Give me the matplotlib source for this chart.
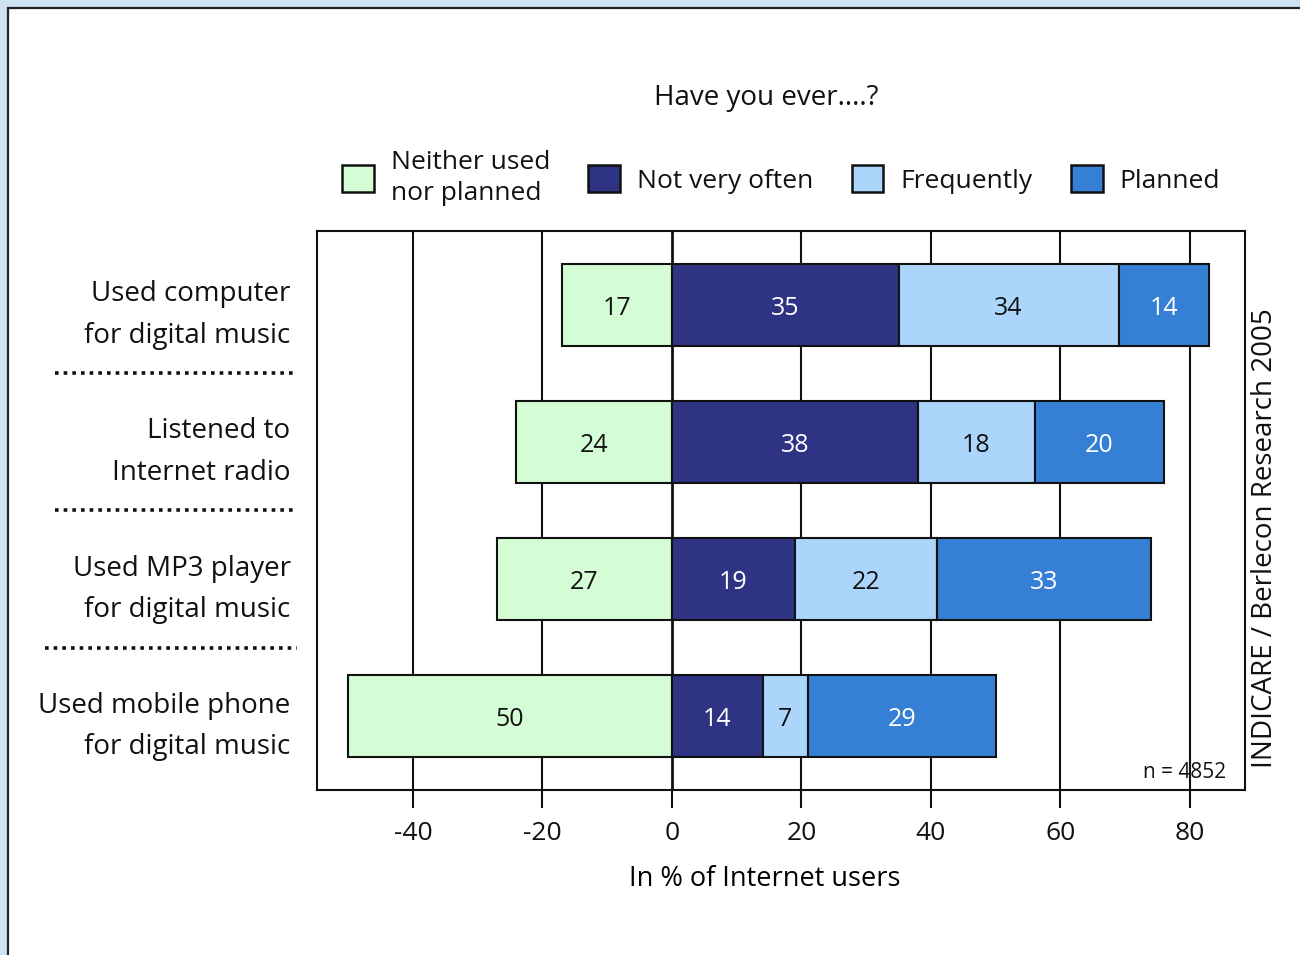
#!/usr/bin/env python3
"""Diverging stacked bars: digital music usage among Internet users (INDICARE 2005)."""

import matplotlib

matplotlib.use("Agg")

import matplotlib.pyplot as plt
import matplotlib.transforms as mtransforms
import numpy as np
from matplotlib.patches import Patch, Rectangle

COLORS = {
    "frame": "#cde2f2",
    "ink": "#111111",
    "neither": "#d5fdd5",
    "not_often": "#2f3384",
    "frequently": "#acd5fb",
    "planned": "#3580d5",
}

CATEGORIES = [
    "Used computer\nfor digital music",
    "Listened to\nInternet radio",
    "Used MP3 player\nfor digital music",
    "Used mobile phone\nfor digital music",
]
NEITHER = [17, 24, 27, 50]
NOT_OFTEN = [35, 38, 19, 14]
FREQUENTLY = [34, 18, 22, 7]
PLANNED = [14, 20, 33, 29]
SERIES_LABELS = ["Neither used\nnor planned", "Not very often", "Frequently", "Planned"]
X_TICKS = [-40, -20, 0, 20, 40, 60, 80]

plt.rcParams.update(
    {
        "font.family": ["Open Sans", "DejaVu Sans"],
        "text.color": COLORS["ink"],
        "axes.edgecolor": COLORS["ink"],
        "xtick.color": COLORS["ink"],
        "ytick.color": COLORS["ink"],
    }
)

W, H = 1300, 955
fig = plt.figure(figsize=(W / 100, H / 100), dpi=100)
fig.patch.set_facecolor(COLORS["frame"])
fig.add_artist(
    Rectangle(
        (8 / W, -0.05), 1.1, 1 - 8 / H + 0.05,
        transform=fig.transFigure, facecolor="white", edgecolor="#222222", lw=1.6, zorder=0,
    )
)

ax = fig.add_axes([317 / W, 165 / H, 928 / W, 559 / H])
ax.set_facecolor("white")

y = np.arange(len(CATEGORIES))
bar_h = 0.6
edge = dict(edgecolor=COLORS["ink"], linewidth=1.5, height=bar_h, zorder=3)

neither = np.array(NEITHER)
not_often = np.array(NOT_OFTEN)
frequently = np.array(FREQUENTLY)
planned = np.array(PLANNED)

ax.barh(y, -neither, left=0, color=COLORS["neither"], **edge)
ax.barh(y, not_often, left=0, color=COLORS["not_often"], **edge)
ax.barh(y, frequently, left=not_often, color=COLORS["frequently"], **edge)
ax.barh(y, planned, left=not_often + frequently, color=COLORS["planned"], **edge)

label_fs = 18
dy = 0.025
for i in range(len(y)):
    ax.text(-neither[i] / 2, y[i] + dy, str(neither[i]), ha="center", va="center",
            fontsize=label_fs, color=COLORS["ink"], zorder=5)
    ax.text(not_often[i] / 2, y[i] + dy, str(not_often[i]), ha="center", va="center",
            fontsize=label_fs, color="white", zorder=5)
    ax.text(not_often[i] + frequently[i] / 2, y[i] + dy, str(frequently[i]), ha="center",
            va="center", fontsize=label_fs, color=COLORS["ink"], zorder=5)
    ax.text(not_often[i] + frequently[i] + planned[i] / 2, y[i] + dy, str(planned[i]),
            ha="center", va="center", fontsize=label_fs, color="white", zorder=5)

for xv in X_TICKS:
    ax.axvline(xv, color=COLORS["ink"], lw=2.0 if xv == 0 else 1.5, zorder=1)

ax.set_xlim(-54.8, 88.5)
ax.set_ylim(len(CATEGORIES) - 0.46, -0.54)
ax.set_xticks(X_TICKS)
ax.set_xticklabels([str(v) for v in X_TICKS], fontsize=19)
ax.tick_params(axis="x", direction="out", length=13, width=1.5, pad=9)
ax.set_yticks(y)
ax.set_yticklabels(CATEGORIES, fontsize=20, linespacing=1.65)
ax.tick_params(axis="y", length=0, pad=19)
for spine in ax.spines.values():
    spine.set_linewidth(1.5)

ax.set_xlabel("In % of Internet users", fontsize=19.5)
ax.xaxis.set_label_coords((765 - 317) / 928, -(879 - 790) / 559)
ax.xaxis.label.set_verticalalignment("center")

# dotted separators between the category labels
trans = mtransforms.blended_transform_factory(fig.transFigure, ax.transData)
for k, sep in enumerate(y[:-1] + 0.5):
    x0 = 45 / W if k == 2 else 55 / W
    ax.plot([x0, 297 / W], [sep, sep], transform=trans, clip_on=False,
            color=COLORS["ink"], lw=2.6, linestyle=(0, (1, 1.4)), dash_capstyle="butt")

ax.text(0.98, 0.012, "n = 4852", transform=ax.transAxes, ha="right", va="bottom",
        fontsize=15, zorder=6)

fig.text(766 / W, 1 - 98 / H, "Have you ever....?", ha="center", va="center", fontsize=20)
fig.text(1265 / W, 1 - 538 / H, "INDICARE / Berlecon Research 2005", rotation=90,
         ha="center", va="center", fontsize=20)

handles = [
    Patch(facecolor=COLORS[key], edgecolor=COLORS["ink"], linewidth=1.8)
    for key in ("neither", "not_often", "frequently", "planned")
]
fig.legend(
    handles, SERIES_LABELS, loc="center", bbox_to_anchor=(781 / W, 1 - 178 / H), ncol=4,
    frameon=False, fontsize=19, handlelength=1.2, handleheight=1.2, handletextpad=0.65,
    columnspacing=1.45, borderaxespad=0,
)
for t in fig.legends[0].get_texts():
    t.set_linespacing(1.35)

fig.savefig("out.png", dpi=100, facecolor=fig.get_facecolor())
